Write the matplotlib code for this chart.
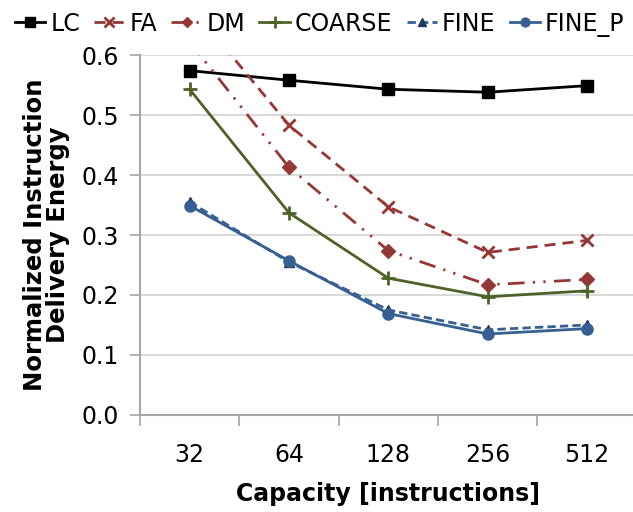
import matplotlib.pyplot as plt
import numpy as np

capacities = ["32", "64", "128", "256", "512"]

lc = [0.574, 0.558, 0.543, 0.538, 0.549]
fa = [0.684, 0.483, 0.347, 0.271, 0.291]
dm = [0.622, 0.413, 0.274, 0.217, 0.226]
coarse = [0.543, 0.337, 0.228, 0.197, 0.207]
fine = [0.355, 0.255, 0.175, 0.142, 0.150]
fine_p = [0.349, 0.257, 0.169, 0.135, 0.144]

red = "#953735"
green = "#4F6228"
blue = "#376092"

fig = plt.figure(figsize=(6.33, 5.12), dpi=100)
ax = fig.add_axes([0.221, 0.1895, 0.785, 0.703])

x = np.arange(len(capacities))

ax.plot(x, lc, color="black", lw=2, marker="s", ms=9, label="LC", zorder=3)
ax.plot(x, fa, color=red, lw=2, ls=(0, (4, 2.5)), marker="x", ms=9, mew=2,
        label="FA", zorder=3)
ax.plot(x, dm, color=red, lw=2, ls=(0, (6, 3, 0.8, 3, 0.8, 3)), marker="D",
        ms=7, label="DM", zorder=3)
ax.plot(x, coarse, color=green, lw=2, marker="+", ms=10, mew=2,
        label="COARSE", zorder=3)
ax.plot(x, fine, color=blue, lw=2, ls=(0, (3, 1.5)), marker="^", ms=7,
        mfc="#1F3A60", mec="#1F3A60", label="FINE", zorder=3)
ax.plot(x, fine_p, color=blue, lw=2, marker="o", ms=8, label="FINE_P",
        zorder=4)

ax.set_xlim(-0.5, len(capacities) - 0.5)
ax.set_ylim(0, 0.6)
ax.set_yticks(np.arange(0, 0.61, 0.1))
ax.set_yticklabels([f"{v:.1f}" for v in np.arange(0, 0.61, 0.1)])
ax.set_xticks(x)
ax.set_xticklabels(capacities)
ax.set_xticks(np.arange(-0.5, len(capacities), 1), minor=True)

ax.grid(axis="y", color="#D9D9D9", lw=1.5, zorder=0)
ax.set_axisbelow(True)
for side in ["top", "right"]:
    ax.spines[side].set_visible(False)
for side in ["left", "bottom"]:
    ax.spines[side].set_color("#A6A6A6")
    ax.spines[side].set_linewidth(1.5)

ax.tick_params(axis="x", which="major", length=0, pad=20, labelsize=17)
ax.tick_params(axis="x", which="minor", length=8, width=1.2, color="#A6A6A6",
               direction="out")
ax.tick_params(axis="y", length=7, width=1.2, color="#A6A6A6", pad=8,
               labelsize=17)

ax.set_xlabel("Capacity [instructions]", fontsize=17, fontweight="bold",
              labelpad=11)
ax.set_ylabel("Normalized Instruction\nDelivery Energy", fontsize=17.5,
              fontweight="bold", labelpad=8, linespacing=0.95)

fig.legend(loc="upper center", bbox_to_anchor=(0.505, 1.005), ncol=6,
           frameon=False, fontsize=17, handlelength=1.3, handletextpad=0.2,
           columnspacing=0.6, borderaxespad=0.2, markerscale=0.8)

fig.savefig("out.png", dpi=100)
